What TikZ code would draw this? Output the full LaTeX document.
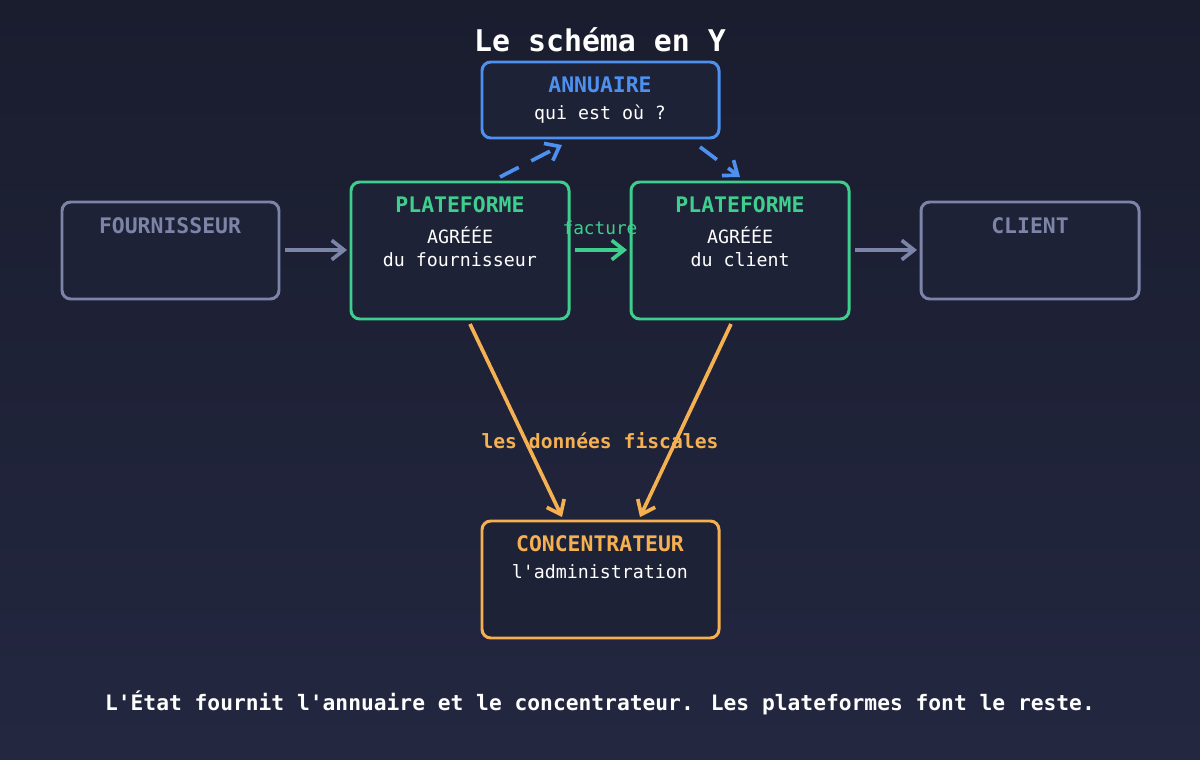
\documentclass[tikz,border=0pt]{standalone}
\usepackage{fontspec}
\setmainfont{DejaVu Sans Mono}
\usetikzlibrary{arrows.meta}
\definecolor{bgtop}{HTML}{1A1D2E}
\definecolor{bgbot}{HTML}{232740}
\definecolor{boxbg}{HTML}{1E2236}
\definecolor{annblue}{HTML}{4D90F0}
\definecolor{platgreen}{HTML}{3ECF8E}
\definecolor{actgrey}{HTML}{7C84A8}
\definecolor{concorange}{HTML}{F5B052}
\begin{document}
\begin{tikzpicture}
[x=0.02cm, y=-0.02cm, line width=1.7pt,
box/.style={rectangle, rounded corners=5pt, fill=boxbg, line width=1.7pt},
ttl/.style={font=\bfseries\fontsize{12.2}{14}\selectfont},
sub/.style={font=\fontsize{10.4}{12}\selectfont, text=white},
arr/.style={-{Straight Barb[length=7pt,width=11pt]}, line width=2.1pt}]

\shade[top color=bgtop, bottom color=bgbot] (0,0) rectangle (1200,760);

\node[font=\bfseries\fontsize{17}{19}\selectfont, text=white] (title) at (600,40) {Le schéma en Y};

% boxes
\draw[box, draw=annblue] (482,62) rectangle (719,138);
\node[ttl, text=annblue] (annt) at (600,85) {ANNUAIRE};
\node[sub] (anns) at (600,114) {qui est où ?};

\draw[box, draw=actgrey] (62,202) rectangle (279,299);
\node[ttl, text=actgrey] (fourt) at (170,226) {FOURNISSEUR};

\draw[box, draw=actgrey] (921,202) rectangle (1139,299);
\node[ttl, text=actgrey] (clit) at (1030,226) {CLIENT};

\foreach \x/\n/\who in {351/pa/du fournisseur, 631/pb/du client} {
  \draw[box, draw=platgreen] (\x,182) rectangle (\x+218,319);
  \node[ttl, text=platgreen] (\n t) at (\x+109,205) {PLATEFORME};
  \node[sub] (\n a) at (\x+109,235) {AGRÉÉE};
  \node[sub] (\n s) at (\x+109,260) {\who};
}

\draw[box, draw=concorange] (482,521) rectangle (719,638);
\node[ttl, text=concorange] (conct) at (600,544) {CONCENTRATEUR};
\node[sub] (concs) at (600,572) {l\textquotesingle administration};

% connector ends
\coordinate (f1) at (285,250); \coordinate (f2) at (347,250);
\coordinate (g1) at (575,250); \coordinate (g2) at (627,250);
\coordinate (c1) at (855,250); \coordinate (c2) at (917,250);
\coordinate (d1) at (500,177); \coordinate (d2) at (562,145);
\coordinate (d3) at (700,147); \coordinate (d4) at (740,177);
\coordinate (o1) at (470,324); \coordinate (o2) at (562,517);
\coordinate (o3) at (731,324); \coordinate (o4) at (640,517);

\draw[arr, actgrey] (f1) -- (f2);
\draw[arr, actgrey] (c1) -- (c2);
\draw[arr, platgreen] (g1) -- (g2);
\node[font=\fontsize{10.1}{12}\selectfont, text=platgreen] (fact) at (600,228) {facture};

\draw[arr, annblue, dash pattern=on 12pt off 8pt] (d1) -- (d2);
\draw[arr, annblue, dash pattern=on 12pt off 8pt] (d3) -- (d4);

\draw[arr, concorange] (o1) -- (o2);
\draw[arr, concorange] (o3) -- (o4);
\node[font=\bfseries\fontsize{11.2}{13}\selectfont, text=concorange] (fisc) at (600,441) {les données fiscales};

\node[font=\bfseries\fontsize{12.1}{14}\selectfont, text=white] (foot) at (600,703) {L\textquotesingle État fournit l\textquotesingle annuaire et le concentrateur. Les plateformes font le reste.};
\end{tikzpicture}
\end{document}
